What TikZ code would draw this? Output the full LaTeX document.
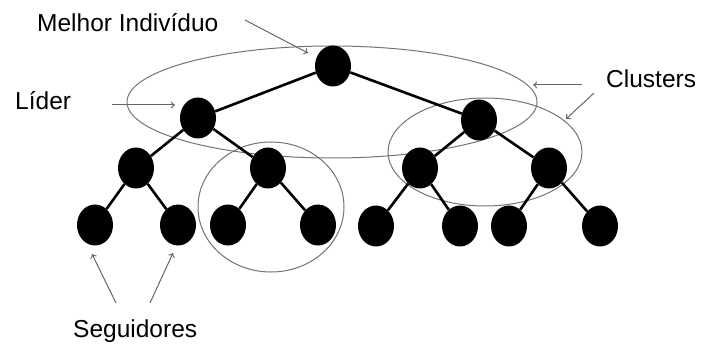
\documentclass[tikz,border=0pt]{standalone}
\usepackage{fontspec}
\setmainfont{Liberation Sans}
\usetikzlibrary{shapes.geometric,arrows.meta}

\begin{document}
\begin{tikzpicture}[x=1pt, y=-1pt,
	ind/.style={ellipse, fill=black, minimum width=36pt, minimum height=41pt, inner sep=0pt},
	link/.style={line width=2.6pt},
	grp/.style={draw=black!55, line width=1pt},
	pointer/.style={-{To[length=4pt,width=7pt]}, draw=black!60, line width=1pt},
	lbl/.style={anchor=base west, inner sep=0pt, font=\fontsize{24.5}{28}\selectfont}]
	\useasboundingbox (0,0) rectangle (703,347);
	\draw[grp] (332,102) ellipse [x radius=205, y radius=56];
	\draw[grp] (485,152) ellipse [x radius=97, y radius=54];
	\draw[grp] (271,207) ellipse [x radius=73, y radius=65];
	\node[ind] (best) at (333,66) {};
	\node[ind] (ldA) at (198,118) {};
	\node[ind] (ldB) at (479,120) {};
	\node[ind] (mA) at (136,168) {};
	\node[ind] (mB) at (268,168) {};
	\node[ind] (mC) at (420,168) {};
	\node[ind] (mD) at (549,168) {};
	\node[ind] (fA) at (95,225) {};
	\node[ind] (fB) at (178,225) {};
	\node[ind] (fC) at (228,225) {};
	\node[ind] (fD) at (318,225) {};
	\node[ind] (fE) at (376,226) {};
	\node[ind] (fF) at (460,226) {};
	\node[ind] (fG) at (509,226) {};
	\node[ind] (fH) at (600,226) {};
	\draw[link] (best) -- (ldA);
	\draw[link] (best) -- (ldB);
	\draw[link] (ldA) -- (mA);
	\draw[link] (ldA) -- (mB);
	\draw[link] (ldB) -- (mC);
	\draw[link] (ldB) -- (mD);
	\draw[link] (mA) -- (fA);
	\draw[link] (mA) -- (fB);
	\draw[link] (mB) -- (fC);
	\draw[link] (mB) -- (fD);
	\draw[link] (mC) -- (fE);
	\draw[link] (mC) -- (fF);
	\draw[link] (mD) -- (fG);
	\draw[link] (mD) -- (fH);
	\node[lbl] (tBest) at (37,32) {Melhor Indivíduo};
	\node[lbl] (tLider) at (15,110) {Líder};
	\node[lbl] (tClu) at (606,88) {Clusters};
	\node[lbl] (tSeg) at (73,337) {Seguidores};
	\coordinate (pBest) at (245,20);
	\coordinate (qBest) at (308,53);
	\coordinate (pLider) at (112,105);
	\coordinate (qLider) at (175,105);
	\coordinate (pCluA) at (582,85);
	\coordinate (qCluA) at (533,85);
	\coordinate (pCluB) at (594,93);
	\coordinate (qCluB) at (566,119);
	\coordinate (pSegA) at (116,303);
	\coordinate (qSegA) at (92,254);
	\coordinate (pSegB) at (150,303);
	\coordinate (qSegB) at (173,253);
	\draw[pointer] (pBest) -- (qBest);
	\draw[pointer] (pLider) -- (qLider);
	\draw[pointer] (pCluA) -- (qCluA);
	\draw[pointer] (pCluB) -- (qCluB);
	\draw[pointer] (pSegA) -- (qSegA);
	\draw[pointer] (pSegB) -- (qSegB);
\end{tikzpicture}
\end{document}
